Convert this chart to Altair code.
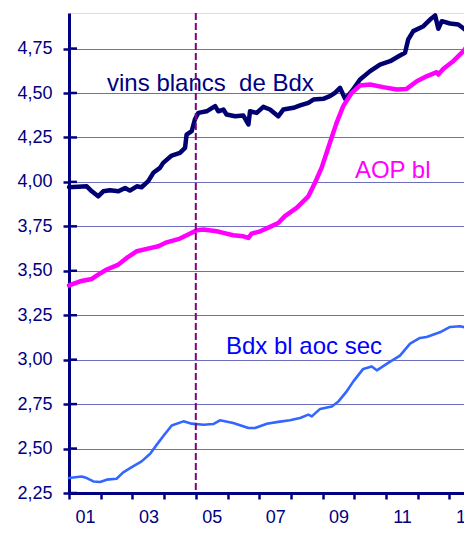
import altair as alt
import pandas as pd

# --- data ---
navy_years = [2001.0, 2001.56, 2001.72, 2001.92, 2002.08, 2002.29, 2002.56, 2002.77, 2002.92, 2003.14,
              2003.29, 2003.50, 2003.66, 2003.87, 2003.97, 2004.24, 2004.50, 2004.66, 2004.71, 2004.87,
              2004.97, 2005.08, 2005.34, 2005.61, 2005.71, 2005.87, 2005.97, 2006.24, 2006.50, 2006.66,
              2006.71, 2006.92, 2007.13, 2007.34, 2007.60, 2007.76, 2008.08, 2008.29, 2008.55, 2008.71,
              2009.02, 2009.23, 2009.39, 2009.55, 2009.71, 2009.92, 2010.18, 2010.50, 2010.81, 2011.13,
              2011.44, 2011.60, 2011.70, 2011.86, 2012.18, 2012.39, 2012.55, 2012.65, 2012.76, 2013.02,
              2013.28, 2013.49, 2013.71]
navy_values = [3.970, 3.975, 3.947, 3.919, 3.947, 3.953, 3.947, 3.966, 3.951, 3.975,
               3.970, 4.004, 4.051, 4.079, 4.107, 4.148, 4.163, 4.191, 4.266, 4.285,
               4.351, 4.388, 4.397, 4.426, 4.397, 4.407, 4.379, 4.369, 4.373, 4.323,
               4.397, 4.388, 4.422, 4.407, 4.369, 4.407, 4.417, 4.430, 4.445, 4.463,
               4.467, 4.482, 4.501, 4.529, 4.467, 4.510, 4.576, 4.623, 4.660, 4.679,
               4.711, 4.726, 4.801, 4.848, 4.876, 4.913, 4.936, 4.861, 4.904, 4.891,
               4.885, 4.857, 4.820]

aop_years = [2001.0, 2001.35, 2001.72, 2001.92, 2002.19, 2002.56, 2002.82, 2003.14, 2003.45, 2003.82,
             2004.08, 2004.50, 2004.76, 2005.03, 2005.24, 2005.66, 2005.87, 2006.18, 2006.50, 2006.66,
             2006.76, 2007.03, 2007.34, 2007.60, 2007.81, 2008.18, 2008.55, 2008.76, 2008.97, 2009.23,
             2009.44, 2009.65, 2009.92, 2010.18, 2010.50, 2010.91, 2011.34, 2011.65, 2011.97, 2012.28,
             2012.60, 2012.65, 2012.81, 2013.12, 2013.44, 2013.71]
aop_values = [3.418, 3.441, 3.454, 3.478, 3.507, 3.535, 3.572, 3.610, 3.623, 3.638,
              3.660, 3.681, 3.704, 3.728, 3.732, 3.722, 3.713, 3.700, 3.694, 3.685,
              3.709, 3.722, 3.747, 3.769, 3.807, 3.854, 3.919, 3.995, 4.080, 4.220,
              4.332, 4.426, 4.501, 4.542, 4.548, 4.533, 4.520, 4.523, 4.566, 4.594,
              4.617, 4.604, 4.636, 4.679, 4.735, 4.800]

sec_years = [2001.0, 2001.40, 2001.56, 2001.77, 2001.98, 2002.19, 2002.50, 2002.71, 2002.98, 2003.29,
             2003.56, 2003.77, 2003.97, 2004.24, 2004.61, 2004.87, 2005.24, 2005.55, 2005.76, 2006.18,
             2006.66, 2006.87, 2007.24, 2007.60, 2007.97, 2008.29, 2008.55, 2008.66, 2008.92, 2009.29,
             2009.50, 2009.76, 2009.97, 2010.28, 2010.55, 2010.71, 2011.07, 2011.44, 2011.76, 2012.07,
             2012.28, 2012.70, 2013.02, 2013.33, 2013.71]
sec_values = [2.334, 2.343, 2.334, 2.315, 2.312, 2.325, 2.330, 2.366, 2.396, 2.428,
              2.471, 2.522, 2.569, 2.630, 2.653, 2.640, 2.634, 2.638, 2.659, 2.644,
              2.616, 2.616, 2.640, 2.650, 2.659, 2.672, 2.691, 2.681, 2.723, 2.737,
              2.765, 2.822, 2.878, 2.948, 2.962, 2.940, 2.982, 3.023, 3.090, 3.122,
              3.128, 3.154, 3.184, 3.188, 3.173]

tick_years = list(range(2001, 2014))
y_ticks = [2.25, 2.5, 2.75, 3.0, 3.25, 3.5, 3.75, 4.0, 4.25, 4.5, 4.75]
marker_year = [2005.0]

label_texts = ["vins blancs\u00a0 de Bdx", "AOP bl", "Bdx bl aoc sec"]
label_years = [2002.20, 2010.02, 2005.95]
label_values = [4.513, 4.023, 3.034]
label_colors = ["#000080", "#FF00FF", "#0000FF"]

NAVY = "#000080"
FONT = "Liberation Sans"

xscale = alt.Scale(domain=[2001, 2013.46], nice=False, zero=False)
yscale = alt.Scale(domain=[2.25, 4.95], nice=False, zero=False)

xaxis = alt.Axis(values=tick_years, title=None, grid=False,
                 labelExpr="datum.value % 2 == 1 ? substring(toString(datum.value), 2) : ''",
                 labelOffset=16, labelBound=False, labelOverlap=False, labelFlush=False,
                 labelFont=FONT, labelFontSize=18, labelColor=NAVY, labelPadding=9,
                 domainColor=NAVY, domainWidth=3, tickColor=NAVY, tickWidth=2.5, tickSize=6)
yaxis = alt.Axis(values=y_ticks, title=None, grid=True, gridColor="#6E6EBE", gridWidth=1,
                 labelExpr="replace(format(datum.value, '.2f'), '.', ',')",
                 labelFont=FONT, labelFontSize=18, labelColor=NAVY, labelPadding=11,
                 domainColor=NAVY, domainWidth=3, tickColor=NAVY, tickWidth=2.5, tickSize=6)


def line_layer(years, values, color, width):
    df = pd.DataFrame({"year": years, "value": values})
    return alt.Chart(df).mark_line(color=color, strokeWidth=width, strokeJoin="round",
                                   strokeCap="round").encode(
        x=alt.X("year:Q", scale=xscale, axis=xaxis),
        y=alt.Y("value:Q", scale=yscale, axis=yaxis),
    )


sec = line_layer(sec_years, sec_values, "#3366FF", 2.6)
navy = line_layer(navy_years, navy_values, "#000070", 4.5)
aop = line_layer(aop_years, aop_values, "#FF00FF", 4.5)

inner_ticks = alt.Chart(pd.DataFrame({"v": y_ticks})).mark_rule(
    color=NAVY, strokeWidth=2.5).encode(
    y=alt.Y("v:Q", scale=yscale, axis=yaxis),
    x=alt.value(0), x2=alt.value(8))

marker = alt.Chart(pd.DataFrame({"year": marker_year})).mark_rule(
    color="#800080", strokeWidth=2, strokeDash=[7, 3]).encode(
    x=alt.X("year:Q", scale=xscale, axis=xaxis))

labels_df = pd.DataFrame({"text": label_texts, "year": label_years,
                          "value": label_values, "color": label_colors})
labels = alt.Chart(labels_df).mark_text(
    align="left", baseline="alphabetic", font=FONT, fontSize=24).encode(
    x=alt.X("year:Q", scale=xscale, axis=xaxis),
    y=alt.Y("value:Q", scale=yscale, axis=yaxis),
    text="text:N",
    color=alt.Color("color:N", scale=None))

chart = alt.layer(sec, navy, aop, inner_ticks, labels, marker).properties(
    width=395, height=480,
    padding={"left": 61, "top": 5, "right": 0, "bottom": 40},
    autosize=alt.AutoSizeParams(type="none"),
).configure_view(stroke=None).configure(background="white")

chart.save("out.html", embed_options={"renderer": "svg", "actions": False})
